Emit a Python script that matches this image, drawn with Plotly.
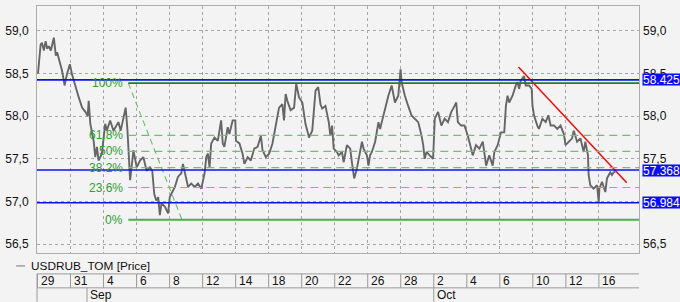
import plotly.graph_objects as go

# ---------------- data ----------------
# time in trading days since Aug 29 (intraday fractions), price USDRUB_TOM
t = [0.03, 0.19, 0.27, 0.39, 0.49, 0.59, 0.69, 0.81, 0.99, 1.11, 1.19, 1.40, 1.49, 1.59, 1.64, 1.78, 1.96,
     2.09, 2.30, 2.50, 2.70, 2.90, 3.04, 3.10, 3.20, 3.40, 3.50, 3.60, 3.70, 3.90, 4.10, 4.20, 4.40, 4.60,
     4.90, 5.04, 5.34, 5.45, 5.61, 5.75, 5.81, 6.01, 6.21, 6.41, 6.61, 6.81, 6.95, 7.07, 7.19, 7.31, 7.41,
     7.51, 7.71, 7.91, 8.01, 8.11, 8.32, 8.51, 8.71, 8.81, 8.92, 9.12, 9.31, 9.52, 9.72, 9.92, 10.12, 10.22,
     10.32, 10.42, 10.52, 10.72, 10.92, 11.12, 11.22, 11.32, 11.52, 11.62, 11.82, 11.98, 12.02, 12.23, 12.42,
     12.53, 12.73, 12.92, 13.13, 13.33, 13.53, 13.63, 13.83, 14.03, 14.23, 14.43, 14.63, 14.83, 14.93, 15.03,
     15.13, 15.33, 15.54, 15.67, 15.84, 16.04, 16.14, 16.23, 16.34, 16.44, 16.64, 16.84, 17.00, 17.14, 17.24,
     17.44, 17.64, 17.74, 17.84, 17.94, 18.14, 18.24, 18.44, 18.54, 18.74, 18.94, 19.04, 19.18, 19.34, 19.51,
     19.65, 19.75, 19.95, 20.05, 20.14, 20.25, 20.45, 20.65, 20.75, 20.85, 21.05, 21.25, 21.45, 21.65, 21.85,
     21.99, 22.05, 22.25, 22.45, 22.65, 22.85, 23.06, 23.26, 23.36, 23.45, 23.56, 23.75, 23.96, 24.06, 24.26,
     24.46, 24.66, 24.86, 25.06, 25.26, 25.36, 25.46, 25.66, 25.86, 26.06, 26.26, 26.36, 26.56, 26.76, 26.97,
     27.06, 27.17, 27.36, 27.57, 27.67, 27.87, 28.07, 28.27, 28.37, 28.47, 28.57, 28.77, 28.97, 29.07, 29.17,
     29.27, 29.47, 29.57, 29.77, 29.93, 29.98, 30.07, 30.27, 30.37, 30.58, 30.78, 30.94, 31.08, 31.28, 31.48,
     31.68, 31.88, 31.98, 32.18, 32.38, 32.48, 32.68, 32.88, 33.08, 33.18, 33.34, 33.38, 33.48, 33.68, 33.89,
     33.99, 34.03, 34.19, 34.39, 34.49, 34.69, 34.79, 34.89, 34.99]
price = [58.50, 58.84, 58.86, 58.77, 58.88, 58.79, 58.82, 58.77, 58.92, 58.71, 58.75, 58.61, 58.53, 58.42, 58.36,
         58.49, 58.61, 58.49, 58.34, 58.22, 58.10, 58.05, 58.00, 58.18, 57.91, 57.71, 57.52, 57.64, 57.48, 57.56,
         57.91, 57.83, 57.95, 57.83, 57.93, 57.83, 58.10, 57.83, 57.25, 57.56, 57.60, 57.40, 57.48, 57.52, 57.36,
         57.40, 57.36, 57.09, 57.01, 57.05, 56.84, 56.98, 56.94, 56.86, 57.05, 57.09, 57.17, 57.29, 57.33, 57.44,
         57.33, 57.17, 57.21, 57.17, 57.21, 57.15, 57.33, 57.52, 57.56, 57.40, 57.68, 57.75, 57.71, 57.95, 57.68,
         57.64, 57.87, 57.79, 57.95, 57.95, 57.71, 57.68, 57.56, 57.44, 57.52, 57.48, 57.62, 57.64, 57.77, 57.60,
         57.52, 57.56, 57.68, 57.87, 58.10, 58.14, 57.95, 58.26, 58.18, 58.07, 58.10, 58.38, 58.22, 58.16, 58.03,
         57.91, 57.83, 57.75, 57.83, 58.30, 58.34, 58.14, 58.09, 58.12, 57.93, 57.77, 57.89, 57.62, 57.58, 57.54,
         57.58, 57.46, 57.66, 57.62, 57.46, 57.27, 57.38, 57.58, 57.70, 57.62, 57.54, 57.42, 57.54, 57.58, 57.70,
         57.93, 57.85, 57.93, 58.09, 58.24, 58.36, 58.16, 58.24, 58.55, 58.40, 58.24, 58.12, 58.01, 57.97, 57.93,
         57.77, 57.66, 57.50, 57.58, 57.54, 57.50, 57.97, 58.05, 57.89, 57.97, 57.93, 58.05, 58.12, 58.16, 57.93,
         57.89, 57.89, 57.77, 57.62, 57.54, 57.66, 57.62, 57.70, 57.54, 57.42, 57.54, 57.42, 57.58, 57.66, 57.81,
         57.81, 58.12, 58.24, 58.16, 58.24, 58.36, 58.40, 58.32, 58.42, 58.47, 58.36, 58.36, 58.32, 58.12, 58.01,
         57.89, 57.85, 57.97, 57.93, 58.01, 57.89, 57.89, 57.85, 57.89, 57.79, 57.66, 57.70, 57.74, 57.83, 57.70,
         57.74, 57.58, 57.70, 57.54, 57.31, 57.19, 57.15, 57.19, 56.99, 57.15, 57.23, 57.11, 57.27, 57.34, 57.31,
         57.34, 57.35]

date_pos = [0, 2, 4, 6, 8, 10, 12, 14, 16, 18, 20, 22, 24, 26, 28, 30, 32, 34]
date_labels = ["29", "31", "4", "6", "8", "12", "14", "18", "20", "22", "26", "28",
               "2", "4", "6", "10", "12", "16"]
month_pos = [3, 24]
month_labels = ["Sep", "Oct"]

ytick_vals = [56.5, 57.0, 57.5, 58.0, 58.5, 59.0]
ytick_text = ["56,5", "57,0", "57,5", "58,0", "58,5", "59,0"]
# right-axis labels (57,0 is fully covered by the 56.984 badge in the reference)
ytick_vals_right = [56.5, 57.5, 58.0, 58.5, 59.0]
ytick_text_right = ["56,5", "57,5", "58,0", "58,5", "59,0"]

level_lines = [58.425, 57.368, 56.984]
level_labels = ["58.425", "57.368", "56.984"]

fib_start = 5.5
fib_hi = 58.387
fib_lo = 56.785
fib_ratios = [1.0, 0.618, 0.5, 0.382, 0.236, 0.0]
fib_labels = ["100%", "61.8%", "50%", "38.2%", "23.6%", "0%"]
fib_diag_t = [5.5, 8.75]

trend_t = [29.13, 35.69]
trend_p = [58.576, 57.218]

series_name = "USDRUB_TOM [Price]"

# ---------------- figure ----------------
X0, X1 = -0.03, 36.43
Y0, Y1 = 56.395, 59.292
FONT = "Liberation Sans, Arial, sans-serif"
BG = "#f3f3f3"
GREEN = "#2f9e2f"
TXT = "#111111"

fig = go.Figure()

fig.add_trace(go.Scatter(x=t, y=price, mode="lines", line=dict(color="#666666", width=1.9),
                         showlegend=False, hoverinfo="skip"))

# fibonacci diagonal
fig.add_trace(go.Scatter(x=fib_diag_t, y=[fib_hi, fib_lo], mode="lines",
                         line=dict(color="#6cbf6c", width=1.1, dash="6px,4px"),
                         showlegend=False, hoverinfo="skip"))
# trend line
fig.add_trace(go.Scatter(x=trend_t, y=trend_p, mode="lines",
                         line=dict(color="#ff0000", width=1.4),
                         showlegend=False, hoverinfo="skip"))
# invisible trace on right axis
fig.add_trace(go.Scatter(x=[t[0]], y=[price[0]], yaxis="y2", mode="markers",
                         marker=dict(opacity=0), showlegend=False, hoverinfo="skip"))

shapes = []
annotations = []

# fib levels
for r, lab in zip(fib_ratios, fib_labels):
    v = fib_lo + r * (fib_hi - fib_lo)
    if r == 1.0:
        ln = dict(color="#1a851a", width=1.6)
    elif r == 0.0:
        ln = dict(color="#4cae4c", width=2.2)
    else:
        ln = dict(color="#74bd74", width=1.2, dash="8px,5px")
    shapes.append(dict(type="line", xref="x", yref="y", x0=fib_start, x1=X1, y0=v, y1=v,
                       line=ln, layer="above"))
    annotations.append(dict(x=fib_start, y=v, xref="x", yref="y", text=lab, showarrow=False,
                            xanchor="right", yanchor="middle", xshift=-3,
                            font=dict(family=FONT, size=12, color=GREEN)))

# blue levels
for v in level_lines:
    shapes.append(dict(type="line", xref="x", yref="y", x0=X0, x1=X1, y0=v, y1=v,
                       line=dict(color="#0a14e6", width=1.6), layer="above"))

for v, lab in zip(level_lines, level_labels):
    annotations.append(dict(x=1, y=v, xref="paper", yref="y", text=lab, showarrow=False,
                            xanchor="left", yanchor="middle", xshift=3, bgcolor="#0a0aff",
                            borderpad=0, height=11, width=37,
                            font=dict(family=FONT, size=12, color="white")))

# date axis table
PH = 248.0
def py(px):
    return (253 - px) / PH

line_col = "#9a9a9a"
shapes.append(dict(type="line", xref="paper", yref="paper", x0=0, x1=1, y0=py(274), y1=py(274),
                   line=dict(color=line_col, width=1)))
shapes.append(dict(type="line", xref="paper", yref="paper", x0=0, x1=1, y0=py(288), y1=py(288),
                   line=dict(color=line_col, width=1)))
shapes.append(dict(type="line", xref="paper", yref="paper", x0=0, x1=0, y0=py(274), y1=py(302),
                   line=dict(color=line_col, width=1)))
for p, lab in zip(date_pos, date_labels):
    shapes.append(dict(type="line", xref="x", yref="paper", x0=p, x1=p, y0=py(274), y1=py(288),
                       line=dict(color=line_col, width=1)))
    annotations.append(dict(x=p, y=py(281), xref="x", yref="paper", text=lab, showarrow=False,
                            xanchor="left", yanchor="middle", xshift=1,
                            font=dict(family=FONT, size=12, color=TXT)))
for p, lab in zip(month_pos, month_labels):
    shapes.append(dict(type="line", xref="x", yref="paper", x0=p, x1=p, y0=py(288), y1=py(302),
                       line=dict(color=line_col, width=1)))
    annotations.append(dict(x=p, y=py(295), xref="x", yref="paper", text=lab, showarrow=False,
                            xanchor="left", yanchor="middle", xshift=1,
                            font=dict(family=FONT, size=12, color=TXT)))

# legend
annotations.append(dict(x=-0.0125, y=py(266), xref="paper", yref="paper", text=series_name,
                        showarrow=False, xanchor="left", yanchor="middle",
                        font=dict(family=FONT, size=11.8, color=TXT)))
shapes.append(dict(type="line", xref="paper", yref="paper", x0=(12 - 33) / 606, x1=(21 - 33) / 606,
                   y0=py(266), y1=py(266), line=dict(color="#777777", width=1)))

axis_common = dict(showline=True, linecolor="#adadad", linewidth=1, zeroline=False)

fig.update_layout(
    width=680, height=302,
    margin=dict(l=33, r=41, t=5, b=49),
    paper_bgcolor=BG, plot_bgcolor=BG,
    showlegend=False,
    font=dict(family=FONT, size=12, color=TXT),
    xaxis=dict(range=[X0, X1], tickvals=date_pos, showticklabels=False, ticks="",
               showgrid=True, gridcolor="#a6a6a6", griddash="dot", gridwidth=1,
               mirror=True, **axis_common),
    yaxis=dict(range=[Y0, Y1], tickvals=ytick_vals, ticktext=ytick_text, ticks="",
               showgrid=True, gridcolor="#a6a6a6", griddash="dot", gridwidth=1,
               mirror=True, ticklabelstandoff=5, tickfont=dict(size=12, color=TXT), **axis_common),
    yaxis2=dict(range=[Y0, Y1], tickvals=ytick_vals_right, ticktext=ytick_text_right, ticks="",
                overlaying="y", side="right", showgrid=False, showline=False, zeroline=False,
                ticklabelstandoff=3, tickfont=dict(size=12, color=TXT)),
    shapes=shapes,
    annotations=annotations,
)

fig.write_html("out.html")
